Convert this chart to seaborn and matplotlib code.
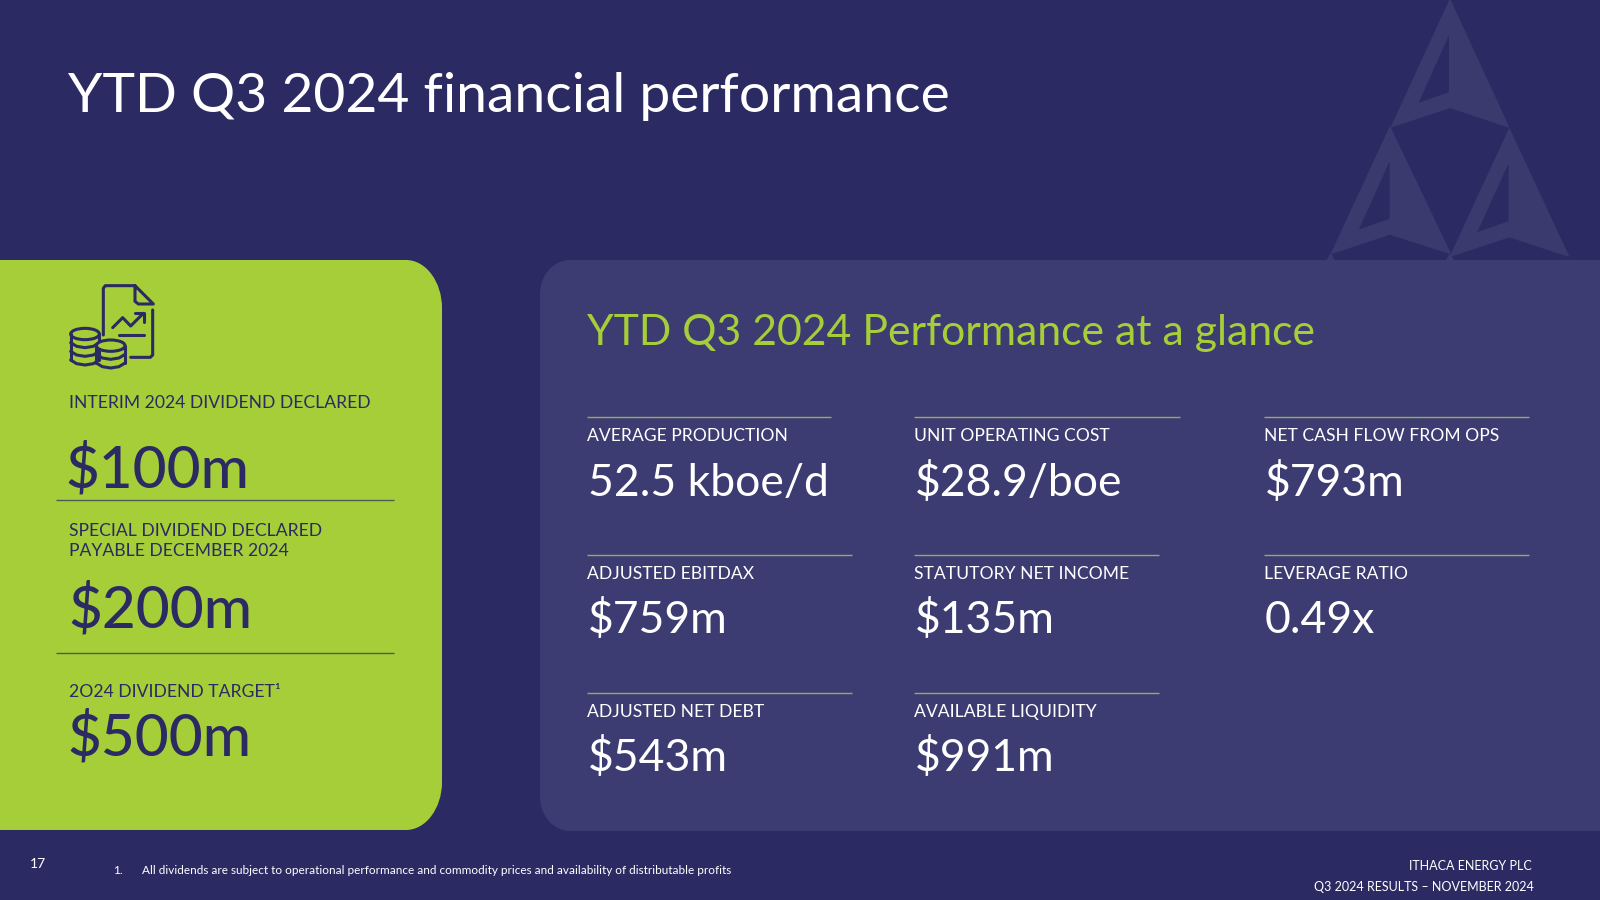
import matplotlib
matplotlib.use("Agg")
import matplotlib.pyplot as plt
import seaborn as sns
from matplotlib.patches import PathPatch, Ellipse
from matplotlib.path import Path

NAVY = "#2b2a63"
PANEL = "#3c3b72"
LOGO = "#3a3a6e"
GREEN = "#a6ce39"
WHITE = "#ffffff"

title = "YTD Q3 2024 financial performance"
panel_title = "YTD Q3 2024 Performance at a glance"

dividend_labels = ["INTERIM 2024 DIVIDEND DECLARED",
                   "SPECIAL DIVIDEND DECLARED\nPAYABLE DECEMBER 2024",
                   "2O24 DIVIDEND TARGET\u00b9"]
dividend_values = ["$100m", "$200m", "$500m"]

kpi_labels = [["AVERAGE PRODUCTION", "UNIT OPERATING COST", "NET CASH FLOW FROM OPS"],
              ["ADJUSTED EBITDAX", "STATUTORY NET INCOME", "LEVERAGE RATIO"],
              ["ADJUSTED NET DEBT", "AVAILABLE LIQUIDITY"]]
kpi_values = [["52.5 kboe/d", "$28.9/boe", "$793m"],
              ["$759m", "$135m", "0.49x"],
              ["$543m", "$991m"]]

footnote = "All dividends are subject to operational performance and commodity prices and availability of distributable profits"
footer_lines = ["ITHACA ENERGY PLC", "Q3 2024 RESULTS \u2013 NOVEMBER 2024"]
page_number = "17"

sns.set_theme(style="white", rc={"figure.facecolor": NAVY, "axes.facecolor": NAVY})
plt.rcParams["font.family"] = ["Lato", "DejaVu Sans"]
plt.rcParams["path.simplify"] = False


def panel_path(x0, y0, x1, y1, rx_l, ry_l, rx_r, ry_r):
    # rounded box, separate corner radii left and right, y runs downwards
    k = 0.55
    v = [(x0 + rx_l, y0), (x1 - rx_r, y0),
         (x1 - rx_r * (1 - k), y0), (x1, y0 + ry_r * (1 - k)), (x1, y0 + ry_r),
         (x1, y1 - ry_r),
         (x1, y1 - ry_r * (1 - k)), (x1 - rx_r * (1 - k), y1), (x1 - rx_r, y1),
         (x0 + rx_l, y1),
         (x0 + rx_l * (1 - k), y1), (x0, y1 - ry_l * (1 - k)), (x0, y1 - ry_l),
         (x0, y0 + ry_l),
         (x0, y0 + ry_l * (1 - k)), (x0 + rx_l * (1 - k), y0), (x0 + rx_l, y0)]
    c = [Path.MOVETO, Path.LINETO, Path.CURVE4, Path.CURVE4, Path.CURVE4, Path.LINETO,
         Path.CURVE4, Path.CURVE4, Path.CURVE4, Path.LINETO,
         Path.CURVE4, Path.CURVE4, Path.CURVE4, Path.LINETO,
         Path.CURVE4, Path.CURVE4, Path.CURVE4]
    return Path(v, c)


def logo_piece(ax, outer, hole=None):
    # arrow shaped triangle with a cut out, coordinates from the 3x crop
    pts = [(1300 + x / 3, y / 3) for x, y in outer]
    v = pts + pts[:1]
    c = [Path.MOVETO] + [Path.LINETO] * (len(pts) - 1) + [Path.CLOSEPOLY]
    if hole:
        pts_h = [(1300 + x / 3, y / 3) for x, y in hole]
        v += pts_h[::-1] + pts_h[-1:]
        c += [Path.MOVETO] + [Path.LINETO] * (len(pts_h) - 1) + [Path.CLOSEPOLY]
    ax.add_patch(PathPatch(Path(v, c), fc=LOGO, ec=LOGO, lw=1.0, joinstyle="round", zorder=1))


def draw_icon(ax):
    def ln(points):
        xs = [p[0] / 3 for p in points]
        ys = [240 + p[1] / 3 for p in points]
        ax.plot(xs, ys, color=NAVY, lw=2.2, solid_capstyle="round", solid_joinstyle="round", zorder=4)

    ln([(310, 285), (310, 145), (316, 137), (405, 137), (460, 192), (415, 192), (405, 184), (405, 137)])
    ln([(458, 210), (458, 345), (451, 352), (392, 352)])
    ln([(338, 263), (368, 233), (392, 258), (430, 220)])
    ln([(405, 218), (432, 218), (432, 245)])
    ln([(358, 285), (432, 285)])
    for cx, cy, h in [(255, 282, 78), (332, 317, 53)]:
        ax.add_patch(Ellipse((cx / 3, 240 + cy / 3), 86 / 3, 34 / 3, fc=GREEN, ec=NAVY, lw=2.2, zorder=4))
        ln([(cx - 43, cy), (cx - 43, cy + h)])
        ln([(cx + 43, cy), (cx + 43, cy + h)])
        for dy in range(26, h + 1, 26):
            ln([(cx - 43, cy + dy), (cx - 25, cy + dy + 11), (cx, cy + dy + 15),
                (cx + 25, cy + dy + 11), (cx + 43, cy + dy)])


fig = plt.figure(figsize=(16, 9), dpi=100)
ax = fig.add_axes([0, 0, 1, 1])
ax.set_xlim(0, 1600)
ax.set_ylim(900, 0)
ax.set_xticks([])
ax.set_yticks([])
sns.despine(ax=ax, left=True, bottom=True)

# faded logo top right, sits behind the big panel
logo_piece(ax, [(450, 0), (625, 380), (450, 322), (275, 380)],
           [(445, 105), (449, 105), (449, 278), (352, 312)])
logo_piece(ax, [(270, 382), (450, 760), (270, 702), (95, 760)],
           [(265, 487), (271, 487), (271, 658), (173, 692)])
logo_piece(ax, [(628, 388), (805, 768), (628, 710), (452, 768)],
           [(622, 493), (628, 493), (628, 665), (528, 700)])
# tips of the next row of triangles, cut off by the panel
logo_piece(ax, [(92, 762), (112, 800), (72, 800)])
logo_piece(ax, [(450, 762), (470, 800), (430, 800)])

ax.add_patch(PathPatch(panel_path(-60, 260, 442, 830, 10, 10, 36, 48), fc=GREEN, ec="none", zorder=2))
ax.add_patch(PathPatch(panel_path(540, 260, 1660, 831, 30, 34, 10, 10), fc=PANEL, ec="none", zorder=2))

ax.text(68, 112, title, color=WHITE, fontsize=39.8, va="baseline", zorder=5)
ax.text(587, 345, panel_title, color=GREEN, fontsize=30.8, va="baseline", zorder=5)

draw_icon(ax)

# left panel
label_y = [403, 541, 692]
value_y = [488, 627, 756]
value_x = [65, 68, 67]
for lab, val, ly, vx, vy in zip(dividend_labels, dividend_values, label_y, value_x, value_y):
    ax.text(69, ly, lab, color=NAVY, fontsize=12.6, va="center", linespacing=1.36, zorder=5)
    ax.text(vx, vy, val, color=NAVY, fontsize=42, va="baseline", fontweight="medium", zorder=5)
ax.hlines([500, 653], 56, 394, color="#4d5a55", lw=1.0, zorder=4)

# kpi grid
col_x = [587, 914, 1264]
row_line_y = [417, 555, 693]
row_label_y = [436, 574, 712]
row_value_y = [496, 633, 771]
rule_ends = [[831, 1180, 1529], [852, 1159, 1529], [852, 1159]]
for r, (labs, vals) in enumerate(zip(kpi_labels, kpi_values)):
    for c, (lab, val) in enumerate(zip(labs, vals)):
        ax.hlines(row_line_y[r], col_x[c], rule_ends[r][c], color="#93ad5c", lw=1.0, zorder=4)
        ax.text(col_x[c], row_label_y[r], lab, color=WHITE, fontsize=12.6, va="center", zorder=5)
        ax.text(col_x[c] + 1, row_value_y[r], val, color=WHITE, fontsize=32, va="baseline", zorder=5)

# footer
ax.text(30, 864, page_number, color=WHITE, fontsize=10, va="center", zorder=5)
ax.text(113, 870, "1.", color=WHITE, fontsize=8.5, va="center", zorder=5)
ax.text(142, 870, footnote, color=WHITE, fontsize=8.5, va="center", zorder=5)
ax.text(1532, 866, footer_lines[0], color=WHITE, fontsize=9, ha="right", va="center", zorder=5)
ax.text(1534, 887, footer_lines[1], color=WHITE, fontsize=9, ha="right", va="center", zorder=5)

fig.savefig("out.png", dpi=100, facecolor=NAVY)
